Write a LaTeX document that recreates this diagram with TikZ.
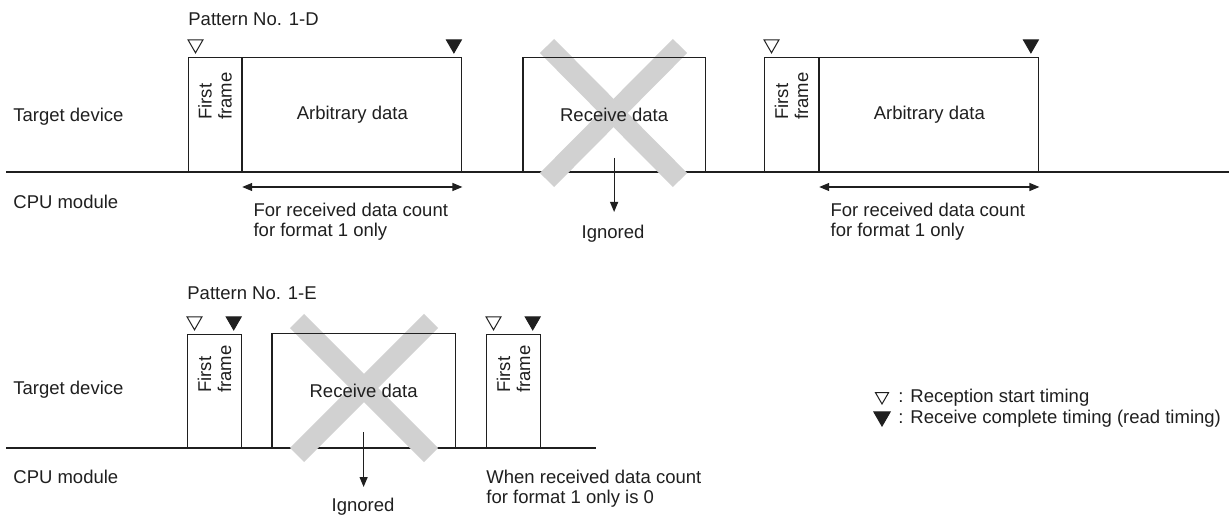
\documentclass[tikz,border=0pt]{standalone}
\usepackage{fontspec}
\setmainfont{Liberation Sans}
\usepackage{xcolor}
\colorlet{colCross}{black!18}
\colorlet{colInk}{black!88}
\usetikzlibrary{arrows.meta, positioning, calc, shapes.geometric, backgrounds}
\newcommand{\diafont}{\fontsize{9.25}{10}\selectfont}
\tikzset{
	timeline/.style={line width=1pt, colInk},
	boxline/.style={line width=0.6pt, colInk},
	framebox/.style={draw=colInk, line width=0.6pt, anchor=south west, inner sep=0pt, minimum height=57pt, font=\diafont, text=colInk},
	startmark/.style={regular polygon, regular polygon sides=3, shape border rotate=180, draw=colInk, line width=0.5pt, inner sep=0pt, minimum size=8.6pt, anchor=south},
	endmark/.style={startmark, fill=colInk},
	crossbar/.style={colCross, line width=10pt},
	spanarr/.style={{Triangle[length=5pt,width=4pt]}-{Triangle[length=5pt,width=4pt]}, line width=0.6pt, colInk},
	ignarr/.style={-{Triangle[length=5pt,width=4pt]}, line width=0.6pt, colInk},
}

\begin{document}
\begin{tikzpicture}[
		x=0.5pt, y=-0.5pt,
		txt/.style={inner sep=0pt, font=\diafont, text=colInk},
		rowlabel/.style={txt, anchor=west},
		note/.style={txt, anchor=north west, align=left},
		vlabel/.style={txt, rotate=90, anchor=west, align=left}
	]
	\useasboundingbox (0,0) rectangle (1229,517);

	% Pattern No. 1-D
	\node[rowlabel] (pat1) at (188,19) {Pattern No. 1-D};
	\node[rowlabel] (tgt1) at (13,117) {Target device};
	\node[rowlabel] (cpu1) at (13,202) {CPU module};
	\coordinate (tl1w) at (6,172);
	\coordinate (tl1e) at (1229,172);

	% first frame + arbitrary data (left)
	\node[framebox, minimum width=26.5pt] (ff1) at (188,172) {};
	\node[framebox, minimum width=109.5pt] (ad1) at (ff1.south east) {Arbitrary data};
	\node[vlabel] (ffl1) at ($(ff1.south)+(0,-52)$) {First\\frame};
	\node[startmark] (s1) at ($(ff1.north west)+(7.5,-3)$) {};
	\node[endmark] (e1) at ($(ad1.north east)+(-8.5,-3)$) {};
	\draw[spanarr] ($(ad1.south west)+(0,15)$) -- ($(ad1.south east)+(0,15)$);
	\node[note] (cnt1) at ($(ad1.south west)+(11,31)$) {For received data count\\for format 1 only};

	% ignored receive data
	\node[framebox, draw=none, minimum width=90.5pt, minimum height=56.5pt] (rd1) at (523,172) {};
	\begin{scope}[on background layer]
		\draw[timeline] (tl1w) -- (tl1e);
		\draw[crossbar] (547,46) -- (680,180);
		\draw[crossbar] (680,46) -- (547,180);
	\end{scope}
	\draw[boxline] (rd1.south west) |- (rd1.north east) -- (rd1.south east);
	\node[txt] (rdl1) at (rd1.center) {Receive data};
	\node[txt] (ign1) at (613,234) {Ignored};
	\draw[ignarr] ($(rd1.south)+(0,-14)$) -- ($(rd1.south)+(0,40)$);

	% first frame + arbitrary data (right)
	\node[framebox, minimum width=27pt] (ff2) at (764,172) {};
	\node[framebox, minimum width=109.5pt] (ad2) at (ff2.south east) {Arbitrary data};
	\node[vlabel] (ffl2) at ($(ff2.south)+(0,-52)$) {First\\frame};
	\node[startmark] (s2) at ($(ff2.north west)+(7.5,-3)$) {};
	\node[endmark] (e2) at ($(ad2.north east)+(-8.5,-3)$) {};
	\draw[spanarr] ($(ad2.south west)+(0,15)$) -- ($(ad2.south east)+(0,15)$);
	\node[note] (cnt2) at ($(ad2.south west)+(11,31)$) {For received data count\\for format 1 only};

	% Pattern No. 1-E
	\node[rowlabel] (pat2) at (187,293) {Pattern No. 1-E};
	\node[rowlabel] (tgt2) at (13,390) {Target device};
	\node[rowlabel] (cpu2) at (13,477) {CPU module};
	\coordinate (tl2w) at (6,448);
	\coordinate (tl2e) at (596,448);

	\node[framebox, minimum width=27pt, minimum height=56.5pt] (ff3) at (187,448) {};
	\node[vlabel] (ffl3) at ($(ff3.south)+(0,-55)$) {First\\frame};
	\node[startmark] (s3) at ($(ff3.north west)+(7.5,-3)$) {};
	\node[endmark] (e3) at ($(ff3.north east)+(-8.5,-3)$) {};

	\node[framebox, draw=none, minimum width=91pt, minimum height=56.5pt] (rd2) at (272,448) {};
	\begin{scope}[on background layer]
		\draw[timeline] (tl2w) -- (tl2e);
		\draw[crossbar] (297,321) -- (431,455);
		\draw[crossbar] (431,321) -- (297,455);
	\end{scope}
	\draw[boxline] (rd2.south west) |- (rd2.north east) -- (rd2.south east);
	\node[txt] (rdl2) at (rd2.center) {Receive data};
	\node[txt] (ign2) at (363,507) {Ignored};
	\draw[ignarr] ($(rd2.south)+(0,-16)$) -- ($(rd2.south)+(0,39)$);

	\node[framebox, minimum width=27pt, minimum height=56.5pt] (ff4) at (486,448) {};
	\node[vlabel] (ffl4) at ($(ff4.south)+(0,-55)$) {First\\frame};
	\node[startmark] (s4) at ($(ff4.north west)+(7.5,-3)$) {};
	\node[endmark] (e4) at ($(ff4.north east)+(-8.5,-3)$) {};
	\node[note] (cnt3) at ($(ff4.south west)+(0,22)$) {When received data count\\for format 1 only is 0};

	% legend
	\node[startmark, minimum size=7.6pt] (lgs) at (882,405) {};
	\node[endmark, minimum size=9.4pt] (lge) at (882,427) {};
	\node[rowlabel] (lgst) at (898,398) {: Reception start timing};
	\node[rowlabel] (lget) at (898,419) {: Receive complete timing (read timing)};
\end{tikzpicture}
\end{document}
